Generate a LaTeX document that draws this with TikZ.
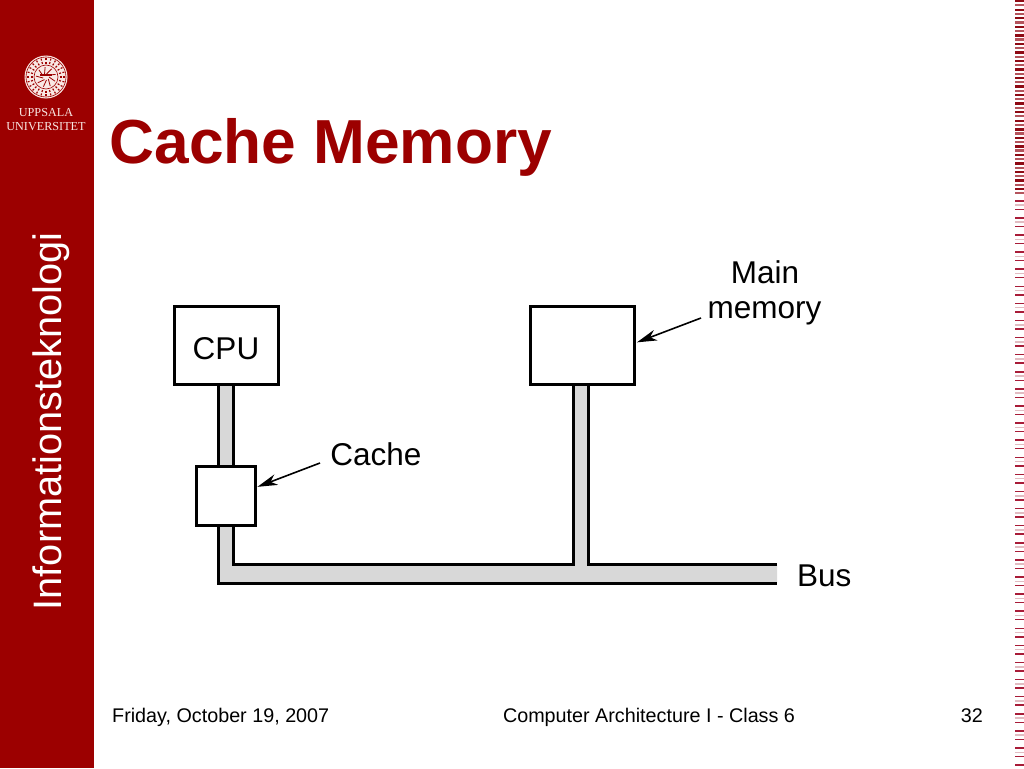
\documentclass[tikz,border=0pt]{standalone}
\usepackage{fontspec}
\setmainfont{Liberation Sans}
\newfontfamily\sealfont{Liberation Serif}
\usetikzlibrary{arrows.meta,backgrounds}
\definecolor{uured}{HTML}{9C0000}
\definecolor{sealwhite}{HTML}{F9E8E4}
\definecolor{barfill}{HTML}{D8D8D8}
\definecolor{stripedark}{HTML}{8E0A14}
\definecolor{stripemid}{HTML}{B4545C}
\definecolor{stripethin}{HTML}{A81C38}
\definecolor{stripepale}{HTML}{E2BCC2}
\tikzset{x=1pt,y=-1pt,
  boxnode/.style={draw=black, line width=3pt, fill=white, inner sep=0pt, text height=27pt, text depth=0pt},
  lbl/.style={font=\fontsize{31.5}{35}\selectfont, inner sep=0pt, anchor=base},
  foot/.style={font=\fontsize{19.75}{24}\selectfont, inner sep=0pt, anchor=base},
  barline/.style={black, line width=3pt},
  callout/.style={black, line width=1.6pt, -{Stealth[length=20pt,width=11pt,inset=6pt]}, shorten >=1pt}}

\begin{document}
\begin{tikzpicture}
   \useasboundingbox (0,0) rectangle (1024,768);
   % left band
   \begin{scope}
    \fill[uured] (0,0) rectangle (94,768);
    \node[sealwhite, font=\sealfont\fontsize{12.2}{14}\selectfont, inner sep=0pt, anchor=base] (uni1) at (46,116.5) {UPPSALA};
    \node[sealwhite, font=\sealfont\fontsize{12.2}{14}\selectfont, inner sep=0pt, anchor=base] (uni2) at (46,130.5) {UNIVERSITET};
    \node[white, rotate=90, font=\fontsize{39.7}{44}\selectfont, inner sep=0pt, anchor=base] (band) at (61,421.5) {Informationsteknologi};
   \end{scope}
   % seal
   \begin{scope}[shift={(46,77)}]
    \fill[sealwhite] (0,0) circle (21.5);
    \draw[uured, line width=0.6pt] (0,0) circle (20);
    \draw[uured, line width=0.6pt] (0,0) circle (12);
    \foreach \a in {0,15,...,345}
      \draw[uured, line width=1.2pt, dash pattern=on 2pt off 1.5pt] (\a:13.5) -- (\a:19);
    \foreach \a in {0,40,...,320}
      \draw[uured, line width=0.8pt] (\a:3) -- (\a+25:10);
    \fill[uured] (-6,-3) rectangle (6,-1.5);
   \end{scope}
   % stripes on the right
   \foreach \i in {0,2,...,44}
     \fill[stripedark] (1015,{\i*4.27}) rectangle (1024,{\i*4.27+2.4});
   \foreach \i in {1,3,...,45}
     \fill[stripemid] (1015,{\i*4.27}) rectangle (1024,{\i*4.27+2.2});
   \foreach \i in {0,...,66}
     \fill[stripethin] (1015,{200+\i*8.55}) rectangle (1024,{201.5+\i*8.55});
   \foreach \i in {0,...,33}
     \fill[stripepale] (1015,{204.3+\i*17.1}) rectangle (1024,{205.8+\i*17.1});
   % title and footer
   \node[uured, font=\bfseries\fontsize{62.2}{70}\selectfont, inner sep=0pt, anchor=base west] (title) at (109.5,163) {Cache Memory};
   \node[foot, anchor=base west] (date) at (112,722) {Friday, October 19, 2007};
   \node[foot] (course) at (649,722) {Computer Architecture I - Class 6};
   \node[foot, anchor=base east] (page) at (983,722) {32};
   % boxes
   \node[boxnode, minimum width=104pt, minimum height=77.5pt, font=\fontsize{31.5}{35}\selectfont] (cpu) at (226,345.5) {CPU};
   \node[boxnode, minimum width=104pt, minimum height=77.5pt] (mem) at (582.5,345.5) {};
   \node[boxnode, minimum width=59pt, minimum height=59pt] (cache) at (225.5,495.5) {};
   \coordinate (busend) at (777,573.5);
   \coordinate (busleft) at (cache.south |- busend);
   \coordinate (busjoin) at (580.5,573.5);
   % the gray bus
   \begin{scope}[on background layer]
   \fill[white] (0,0) rectangle (1024,768);
   \fill[barfill] ([xshift=-7.5pt]cache.south |- cpu.south) -- ([xshift=-7.5pt,yshift=-9.5pt]busleft)
      -- ([yshift=-9.5pt]busend) -- ([yshift=9.5pt]busend) -- ([xshift=7.5pt,yshift=9.5pt]busjoin)
      -- ([xshift=7.5pt]busjoin |- mem.south) -- ([xshift=-7.5pt]busjoin |- mem.south)
      -- ([xshift=-7.5pt,yshift=9.5pt]busjoin) -- ([xshift=7.5pt,yshift=9.5pt]busleft)
      -- ([xshift=7.5pt]cache.south |- cpu.south) -- cycle;
   \draw[barline] ([xshift=-7.5pt]cache.north |- cpu.south) -- ([xshift=-7.5pt]cache.north);
   \draw[barline] ([xshift=7.5pt]cache.north |- cpu.south) -- ([xshift=7.5pt]cache.north);
   \draw[barline] ([xshift=-7.5pt]cache.south) -- ([xshift=-7.5pt,yshift=-9.5pt]busleft) -- ([yshift=-9.5pt]busend);
   \draw[barline] ([xshift=7.5pt]cache.south) -- ([xshift=7.5pt,yshift=9.5pt]busleft)
      -- ([xshift=-7.5pt,yshift=9.5pt]busjoin) -- ([xshift=-7.5pt]busjoin |- mem.south);
   \draw[barline] ([xshift=7.5pt]busjoin |- mem.south) -- ([xshift=7.5pt,yshift=9.5pt]busjoin) -- ([yshift=9.5pt]busend);
   \end{scope}
   % labels and arrows
   \node[lbl] (mainlbl) at (765,283.5) {Main};
   \node[lbl] (memlbl) at (764.5,318.5) {memory};
   \node[lbl] (cachelbl) at (376,465.5) {Cache};
   \node[lbl, anchor=base west] (buslbl) at (797,586) {Bus};
   \coordinate (memtail) at (701,318);
   \coordinate (cachetail) at (320,463);
   \draw[callout] (memtail) -- (mem.3);
   \draw[callout] (cachetail) -- (cache.15);
  \end{tikzpicture}
\end{document}
